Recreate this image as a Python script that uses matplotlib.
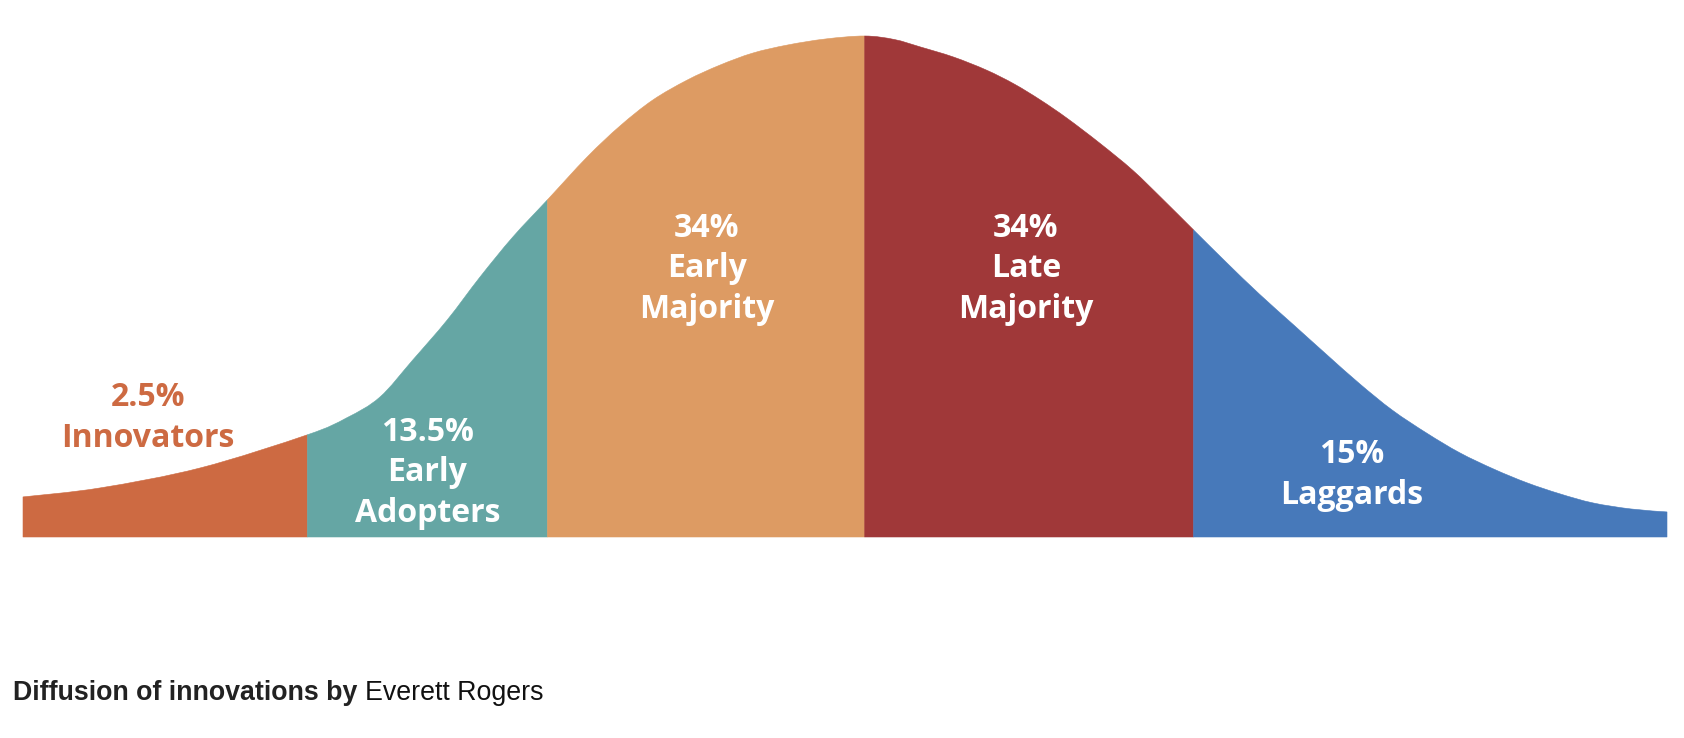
"""
Diffusion of innovations bell curve (Everett Rogers), redrawn.
"""

import numpy as np
import matplotlib
matplotlib.use('Agg')  # no GUI
import matplotlib.pyplot as plt
from matplotlib.path import Path
from matplotlib.patches import PathPatch

# ── Data ──
# curve: position along the curve (0..100) and height (0..100)
curve_x = [0.0, 4.7, 10.8, 17.3, 19.7, 21.7, 23.7, 25.8, 27.8, 29.8, 31.9,
           34.3, 36.3, 38.3, 40.4, 42.4, 44.4, 46.5, 48.8, 51.2, 53.0, 54.6,
           56.6, 58.6, 60.3, 61.9, 63.5, 65.5, 67.5, 69.3, 71.2, 73.2, 75.2,
           77.3, 79.3, 81.3, 83.3, 85.4, 87.4, 89.5, 91.5, 93.5, 95.5, 97.8, 100.0]
curve_h = [8.0, 9.8, 13.8, 20.4, 23.8, 27.9, 35.3, 43.3, 51.9, 59.9, 67.3,
           75.8, 82.0, 87.2, 91.2, 94.2, 96.6, 98.2, 99.4, 100.0, 99.3, 97.8,
           95.8, 93.2, 90.4, 87.2, 83.6, 78.6, 73.2, 67.5, 61.3, 54.8, 48.5,
           42.3, 36.4, 30.6, 25.3, 20.7, 16.8, 13.5, 10.8, 8.6, 6.8, 5.6, 5.0]

boundaries = [0.0, 17.3, 31.9, 51.2, 71.2, 100.0]
shares = ["2.5%", "13.5%", "34%", "34%", "15%"]
groups = ["Innovators", "Early\nAdopters", "Early\nMajority", "Late\nMajority", "Laggards"]
colors = ["#CD6A42", "#65A6A4", "#DD9B63", "#A03839", "#4779BA"]

# label anchors (data units) and text colours
label_pos = [(7.6, 23.8), (24.6, 12.8), (41.6, 53.5), (61.0, 53.5), (80.8, 12.4)]
label_col = ["#CD6A42", "white", "white", "white", "white"]

W, H = 1684, 738
fig = plt.figure(figsize=(W / 100, H / 100), dpi=100)
fig.patch.set_facecolor("white")

# axes sits exactly on the drawn curve area (left 23px, right 1667px, baseline 537px, peak 36px)
ax = fig.add_axes([23 / W, (H - 537) / H, 1644 / W, 501 / H])
ax.set_xlim(0, 100)
ax.set_ylim(0, 100)
ax.axis("off")

pts = np.column_stack([curve_x, curve_h])
n = len(pts)


def ctrl(i):
    """Catmull-Rom -> cubic bezier control points between pts[i] and pts[i+1]."""
    p0 = pts[max(i - 1, 0)]
    p1, p2 = pts[i], pts[i + 1]
    p3 = pts[min(i + 2, n - 1)]
    return p1 + (p2 - p0) / 6.0, p2 - (p3 - p1) / 6.0


for k, col in enumerate(colors):
    lo, hi = boundaries[k], boundaries[k + 1]
    i0 = int(np.argmin(np.abs(pts[:, 0] - lo)))
    i1 = int(np.argmin(np.abs(pts[:, 0] - hi)))
    verts = [(lo, 0), tuple(pts[i0])]
    codes = [Path.MOVETO, Path.LINETO]
    for i in range(i0, i1):
        c1, c2 = ctrl(i)
        verts += [tuple(c1), tuple(c2), tuple(pts[i + 1])]
        codes += [Path.CURVE4] * 3
    verts += [(hi, 0), (lo, 0)]
    codes += [Path.LINETO, Path.CLOSEPOLY]
    ax.add_patch(PathPatch(Path(verts, codes), facecolor=col, edgecolor=col,
                           linewidth=0.4, clip_on=False))

for (x, y), s, g, tc in zip(label_pos, shares, groups, label_col):
    ax.text(x, y, f"{s}\n{g}", ha="center", va="center", color=tc,
            fontsize=23, fontweight="bold", family=["Open Sans", "DejaVu Sans"],
            linespacing=1.3, clip_on=False)

# ── Caption: bold part + regular part ──
renderer = fig.canvas.get_renderer()
cap_y = 1 - 693 / H
t1 = fig.text(13 / W, cap_y, "Diffusion of innovations by ", ha="left", va="center",
              fontsize=19.3, fontweight="bold", color="#222222",
              family=["Liberation Sans", "DejaVu Sans"])
bb = t1.get_window_extent(renderer=renderer)
fig.text(bb.x1 / W, cap_y, "Everett Rogers", ha="left", va="center",
         fontsize=19.3, color="#111111", family=["Liberation Sans", "DejaVu Sans"])

plt.savefig("out.png", dpi=100, facecolor="white")
